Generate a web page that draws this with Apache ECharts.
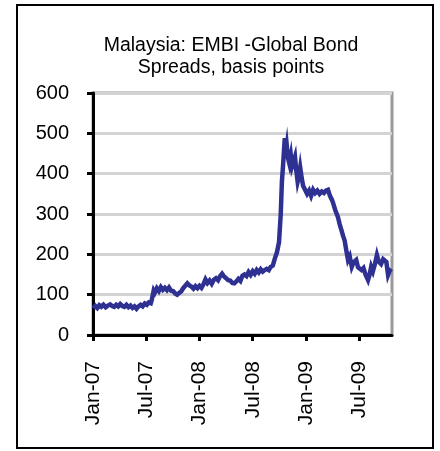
<!DOCTYPE html>
<html>
<head>
<meta charset="utf-8">
<script src="https://cdn.jsdelivr.net/npm/echarts@6/dist/echarts.min.js"></script>
<style>
html,body{margin:0;padding:0;background:#fff;}
#chart{width:440px;height:451px;}
</style>
</head>
<body>
<div id="chart"></div>
<script>
var titleText = "Malaysia: EMBI -Global Bond\nSpreads, basis points";
var tickLabels = ["Jan-07", "Jul-07", "Jan-08", "Jul-08", "Jan-09", "Jul-09"];
var yTicks = [0, 100, 200, 300, 400, 500, 600];

var dates = [
"2007-01-02","2007-01-09","2007-01-16","2007-01-23","2007-01-30","2007-02-06","2007-02-13","2007-02-20","2007-02-27",
"2007-03-06","2007-03-13","2007-03-20","2007-03-27","2007-04-03","2007-04-10","2007-04-17","2007-04-24",
"2007-05-01","2007-05-08","2007-05-15","2007-05-22","2007-05-29","2007-06-05","2007-06-12","2007-06-19","2007-06-26",
"2007-07-03","2007-07-10","2007-07-17","2007-07-20","2007-07-24","2007-07-27","2007-07-31",
"2007-08-07","2007-08-14","2007-08-21","2007-08-28","2007-09-04","2007-09-11","2007-09-18","2007-09-25",
"2007-10-02","2007-10-09","2007-10-16","2007-10-23","2007-10-30","2007-11-06","2007-11-13","2007-11-20","2007-11-27",
"2007-12-04","2007-12-11","2007-12-18","2007-12-25",
"2008-01-01","2008-01-08","2008-01-15","2008-01-22","2008-01-29","2008-02-05","2008-02-12","2008-02-19","2008-02-26",
"2008-03-04","2008-03-11","2008-03-18","2008-03-25","2008-04-01","2008-04-08","2008-04-15","2008-04-22","2008-04-29",
"2008-05-06","2008-05-13","2008-05-20","2008-05-27","2008-06-03","2008-06-10","2008-06-17","2008-06-24",
"2008-07-01","2008-07-08","2008-07-15","2008-07-22","2008-07-29","2008-08-05","2008-08-12","2008-08-19","2008-08-26",
"2008-09-02","2008-09-09","2008-09-16","2008-09-23","2008-09-30","2008-10-06","2008-10-10","2008-10-14","2008-10-20",
"2008-10-23","2008-10-27","2008-10-31","2008-11-05","2008-11-10","2008-11-14","2008-11-19","2008-11-24","2008-11-28",
"2008-12-03","2008-12-08","2008-12-12","2008-12-17","2008-12-22","2008-12-29",
"2009-01-05","2009-01-12","2009-01-19","2009-01-26","2009-02-02","2009-02-09","2009-02-16","2009-02-23",
"2009-03-02","2009-03-09","2009-03-16","2009-03-23","2009-03-30","2009-04-03","2009-04-10","2009-04-19","2009-04-25",
"2009-05-01","2009-05-07","2009-05-12","2009-05-18","2009-05-24","2009-05-30","2009-06-06","2009-06-12","2009-06-21","2009-06-27",
"2009-07-03","2009-07-09","2009-07-16","2009-07-23","2009-08-01","2009-08-06","2009-08-12","2009-08-18","2009-08-25",
"2009-09-01","2009-09-07","2009-09-15","2009-09-22","2009-10-03","2009-10-09","2009-10-15","2009-10-20"
];
var spreads = [
66,72,67,74,70,75,69,73,76,
72,70,75,71,77,72,70,75,
69,73,67,71,65,71,75,71,78,
75,81,79,86,90,110,105,
116,109,119,112,117,111,118,110,
109,103,100,104,108,116,122,128,123,
120,115,121,116,
122,117,126,138,129,135,127,137,141,
136,146,152,145,141,136,135,129,128,
133,139,134,147,150,146,156,149,
158,152,161,155,163,157,161,164,161,
169,172,190,205,230,300,380,420,488,
450,470,440,425,445,418,430,442,410,
380,395,415,390,370,360,
350,358,345,360,352,358,350,356,
352,358,360,345,335,327,310,293,275,
260,245,235,210,186,195,169,180,186,168,
172,161,166,150,136,148,169,158,176,
198,182,176,188,181,149,160,164
];

function toMonth(s) {
  var p = s.split("-");
  var y = +p[0], m = +p[1], d = +p[2];
  var dim = new Date(Date.UTC(y, m, 0)).getUTCDate();
  return (y - 2007) * 12 + (m - 1) + (d - 1) / dim;
}
var seriesData = dates.map(function (d, i) { return [toMonth(d), spreads[i]]; });
var tickValues = tickLabels.map(function (_, i) { return i * 6; });

var chart = echarts.init(document.getElementById("chart"), null, { renderer: "canvas" });
var font = "Arial, 'Liberation Sans', Helvetica, sans-serif";
chart.setOption({
  animation: false,
  backgroundColor: "#fff",
  title: {
    text: titleText,
    left: 226,
    top: 30,
    textAlign: "center",
    textStyle: { fontFamily: font, fontSize: 19.5, fontWeight: "normal", color: "#000", lineHeight: 22 }
  },
  graphic: [{
    type: "rect",
    shape: { x: 17, y: 5, width: 416, height: 443 },
    style: { fill: "none", stroke: "#000", lineWidth: 2 },
    z: 100
  }],
  grid: {
    left: 93, right: 48, top: 93, bottom: 116,
    show: true, borderColor: "#999", borderWidth: 3, backgroundColor: "#fff"
  },
  xAxis: {
    type: "value",
    min: 0,
    max: 33.7,
    axisLine: { lineStyle: { color: "#000", width: 3 } },
    axisTick: { show: true, length: 6, lineStyle: { color: "#000", width: 3 }, customValues: tickValues },
    axisLabel: {
      customValues: tickValues,
      rotate: 90,
      margin: 26,
      fontFamily: font, fontSize: 21, color: "#000",
      formatter: function (v) { var i = Math.round(v / 6); return tickLabels[i] || ""; }
    },
    splitLine: { show: false }
  },
  yAxis: {
    type: "value",
    min: 0, max: 600, interval: 100,
    axisLine: { show: true, lineStyle: { color: "#000", width: 3 } },
    axisTick: { show: true, length: 6, lineStyle: { color: "#000", width: 3 } },
    axisLabel: {
      margin: 24, fontFamily: font, fontSize: 20, color: "#000",
      formatter: function (v) { return yTicks.indexOf(v) >= 0 ? String(v) : ""; }
    },
    splitLine: { show: true, lineStyle: { color: "#d3d3d3", width: 3 } }
  },
  series: [{
    type: "line",
    data: seriesData,
    showSymbol: false,
    lineStyle: { color: "#2e3192", width: 4.5, join: "miter" },
    itemStyle: { color: "#2e3192" }
  }]
});
</script>
</body>
</html>
